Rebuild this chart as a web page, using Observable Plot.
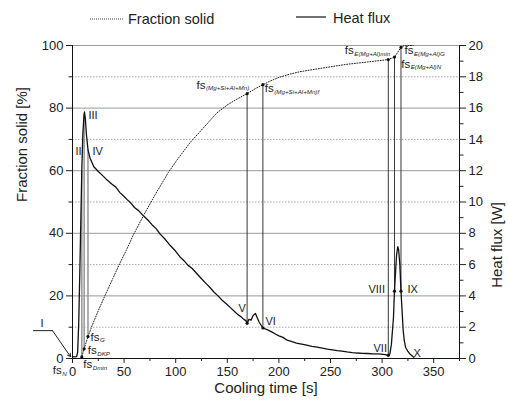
<!DOCTYPE html>
<html>
<head>
<meta charset="utf-8">
<script src="https://cdn.jsdelivr.net/npm/d3@7"></script>
<script src="https://cdn.jsdelivr.net/npm/@observablehq/plot@0.6"></script>
<style>
  html, body { margin: 0; padding: 0; background: #fff; }
  #legend { position: relative; width: 508px; height: 35px; font-family: 'Liberation Sans', Arial, Helvetica, sans-serif; font-size: 14.5px; color: #222; line-height: 1; }
  #legend span { position: absolute; white-space: nowrap; }
  #legend svg { position: absolute; left: 0; top: 0; }
</style>
</head>
<body>
<div id="legend">
  <svg width="508" height="35">
    <line x1="90" x2="123" y1="19" y2="19" stroke="#444" stroke-width="1" stroke-dasharray="1,1"></line>
    <line x1="296" x2="326" y1="17" y2="17" stroke="#222" stroke-width="1.3"></line>
  </svg>
  <span style="left:128px;top:12px">Fraction solid</span>
  <span style="left:333px;top:11px">Heat flux</span>
</div>
<div id="chart"></div>
<script>
// ---- data ----
// Heat flux curve: cooling time [s] and heat flux [W]
const hfTime = [0, 2, 4, 5, 6, 7, 8, 9, 10, 11, 11.3, 11.6, 12.5, 13.5, 15, 17, 20.7, 25, 29, 33.6, 38, 42, 46, 50, 53, 57, 60, 64, 69, 73, 77, 81, 85, 90, 95, 100, 104.7, 108, 112, 116, 120.8, 125, 130, 133, 137, 141, 145, 149, 153, 157, 160, 163, 166, 168, 169.2, 171, 173, 175, 177.3, 179, 181, 184.5, 188.6, 193, 197, 200, 204, 208, 212, 217, 222, 227, 232, 237, 242, 247, 252, 256.5, 261, 266, 271, 276, 281, 286, 291, 295, 299, 303, 306, 307.5, 309, 311, 312, 313, 314, 315.2, 316, 317.2, 318.3, 319.5, 320.4, 321.5, 322.7, 325, 327.5, 330.7];
const hfWatts = [0.12, 0.1, 0.12, 0.4, 2.2, 5.2, 8.6, 12.0, 14.3, 15.4, 15.6, 15.75, 15.3, 14.3, 13.35, 12.8, 12.25, 11.95, 11.7, 11.4, 11.15, 10.95, 10.6, 10.35, 10.15, 9.9, 9.65, 9.45, 9.1, 8.85, 8.55, 8.3, 7.95, 7.6, 7.2, 6.85, 6.45, 6.25, 5.95, 5.75, 5.4, 5.1, 4.75, 4.55, 4.25, 4.0, 3.72, 3.5, 3.25, 3.0, 2.82, 2.68, 2.5, 2.42, 2.25, 2.5, 2.45, 2.75, 2.88, 2.6, 2.3, 1.95, 1.84, 1.7, 1.55, 1.45, 1.35, 1.17, 1.1, 0.98, 0.92, 0.85, 0.78, 0.72, 0.66, 0.6, 0.55, 0.5, 0.47, 0.42, 0.38, 0.35, 0.33, 0.32, 0.3, 0.3, 0.28, 0.25, 0.2, 0.28, 0.9, 2.6, 4.3, 5.5, 6.6, 7.15, 6.95, 6.0, 4.3, 2.9, 1.8, 1.15, 0.72, 0.45, 0.25, 0.08];

// Fraction solid curve: cooling time [s] and fraction solid [%]
const fsTime = [8, 9, 11.3, 15, 19, 25, 32, 39, 46, 52, 59, 69, 80, 93, 101, 114, 125, 140, 150, 160, 169.2, 177, 184.5, 192, 200, 210, 220, 233, 250, 266, 285, 306, 312, 318.3, 321, 325, 330];
const fsPercent = [0, 0.5, 3.1, 7, 10.5, 15.3, 20.5, 25.5, 30.5, 34.5, 39.5, 45.8, 52.3, 59.5, 63.3, 69, 73, 78.5, 81, 83, 84.6, 86.2, 87.5, 88.7, 89.8, 90.8, 91.6, 92.3, 93.2, 94, 94.7, 95.5, 96.3, 99.4, 99.9, 100, 100];

// Characteristic points (roman numerals on the heat flux curve)
const pointNames = ["I", "II", "III", "IV", "V", "VI", "VII", "VIII", "IX", "X"];
const pointTime = [0, 9, 11.3, 15, 169.2, 184.5, 306, 312, 318.3, 330.7];
const pointHeatFlux = [0.12, 12.0, 15.6, 13.35, 2.25, 1.95, 0.2, 4.3, 4.3, 0.08];
const pointFraction = [0, 0.5, 3.1, 7, 84.6, 87.5, 95.5, 96.3, 99.4, 100];

// Annotation anchors (data units: time [s], fraction solid [%])
const numeralTime = [-31, 2.9, 15.5, 19.4, 160.9, 187, 291.7, 286.8, 324.6, 330.4];
const numeralFraction = [11.2, 66, 77.5, 66.3, 16, 11.8, 3.2, 22, 22, 1.6];

const fsSubscripts = ["N", "Dmin", "DKP", "G", "(Mg+Si+Al+Mn)", "(Mg+Si+Al+Mn)f", "E(Mg+Al)min", "E(Mg+Al)G", "E(Mg+Al)N"];
const fsLabelTime = [-19.2, 10.4, 14.8, 17.4, 120.2, 186.3, 263.9, 321.7, 318.5];
const fsLabelFraction = [-3.7, -1.9, 2.5, 6.9, 87.4, 86.4, 98.4, 98.5, 94.1];

// leader for point I: label side -> elbow -> tip
const leaderTime = [-37.8, -19.4, -1.9];
const leaderFraction = [8.9, 8.9, 0.6];

// Axes
const xDomain = [0, 375];
const xTicks = [0, 50, 100, 150, 200, 250, 300, 350];
const xMinorTicks = [25, 75, 125, 175, 225, 275, 325, 375];
const fsTicks = [0, 20, 40, 60, 80, 100];
const fsMinorTicks = [10, 30, 50, 70, 90];
const hfTicks = [0, 2, 4, 6, 8, 10, 12, 14, 16, 18, 20];
const hfMinorTicks = [1, 3, 5, 7, 9, 11, 13, 15, 17, 19];
const hfMax = 20, fsMax = 100;

// ---- build tables ----
const k = fsMax / hfMax; // heat flux axis 0–20 W spans the same height as 0–100 %
const hf = hfTime.map((t, i) => ({t, y: hfWatts[i] * k}));
const fs = fsTime.map((t, i) => ({t, y: fsPercent[i]}));
const pts = pointNames.map((name, i) => ({name, t: pointTime[i], hf: pointHeatFlux[i] * k, fs: pointFraction[i]}));
const numerals = pointNames.map((name, i) => ({name, t: numeralTime[i], y: numeralFraction[i]}));
const fsLabels = fsSubscripts.map((sub, i) => ({sub, t: fsLabelTime[i], y: fsLabelFraction[i]}));
const leader = leaderTime.map((t, i) => ({t, y: leaderFraction[i]}));

const font = "'Liberation Sans', Arial, Helvetica, sans-serif";

const chart = Plot.plot({
  width: 508,
  height: 370,
  marginTop: 10,
  marginLeft: 72,
  marginRight: 49,
  marginBottom: 47,
  style: {fontFamily: font, fontSize: "13px", color: "#222", background: "#fff"},
  x: {domain: xDomain},
  y: {domain: [0, fsMax]},
  marks: [
    // grid
    Plot.ruleY(fsMinorTicks, {stroke: "#a8a8a8", strokeWidth: 1, strokeDasharray: "1.5,1.5"}),
    Plot.ruleY(fsTicks.filter(d => d > 0), {stroke: "#9a9a9a", strokeWidth: 1}),
    // frame lines
    Plot.ruleX(xDomain, {stroke: "#111", strokeWidth: 1}),
    Plot.ruleY([0], {stroke: "#111", strokeWidth: 1}),
    // axes
    Plot.axisY({ticks: fsTicks, tickSize: 6, tickPadding: 3, fontSize: 13, label: null}),
    Plot.axisY({ticks: fsMinorTicks, tickSize: 3.5, tickFormat: () => "", label: null}),
    Plot.axisY({anchor: "right", ticks: hfTicks.map(w => w * k), tickFormat: d => String(d / k), tickSize: 6, tickPadding: 3, fontSize: 13, label: null}),
    Plot.axisY({anchor: "right", ticks: hfMinorTicks.map(w => w * k), tickFormat: () => "", tickSize: 3.5, label: null}),
    Plot.axisX({ticks: xTicks, tickSize: 5, tickPadding: 3, fontSize: 13, label: null}),
    Plot.axisX({ticks: xMinorTicks, tickSize: 3, tickFormat: () => "", label: null}),
    // connectors between heat flux points and fraction solid points
    Plot.link(pts.slice(1, 4), {x1: "t", x2: "t", y1: "fs", y2: "hf", stroke: "#9c9c9c", strokeWidth: 1.6}),
    Plot.link(pts.slice(4, 9), {x1: "t", x2: "t", y1: "fs", y2: "hf", stroke: "#222", strokeWidth: 0.9}),
    // curves
    Plot.line(fs, {x: "t", y: "y", stroke: "#222", strokeWidth: 1, strokeDasharray: "1,1.6"}),
    Plot.line(hf, {x: "t", y: "y", stroke: "#111", strokeWidth: 1.3}),
    // points
    Plot.dot(pts.slice(1, 9), {x: "t", y: "fs", r: 1.6, fill: "#111"}),
    Plot.dot(pts.slice(4, 9), {x: "t", y: "hf", r: 1.6, fill: "#111"}),
    // leader for I
    Plot.line(leader.slice(0, 2), {x: "t", y: "y", stroke: "#222", strokeWidth: 1}),
    Plot.arrow([{x1: leader[1].t, y1: leader[1].y, x2: leader[2].t, y2: leader[2].y}], {x1: "x1", y1: "y1", x2: "x2", y2: "y2", stroke: "#222", strokeWidth: 1, headLength: 5}),
    // roman numerals
    Plot.text(numerals, {x: "t", y: "y", text: "name", textAnchor: "start", fontSize: 11, fill: "#222"}),
    // fs labels
    Plot.text(fsLabels, {x: "t", y: "y", text: () => "fs", textAnchor: "start", fontSize: 11.5, fill: "#222"}),
    Plot.text(fsLabels, {x: "t", y: "y", text: "sub", textAnchor: "start", fontSize: 6.2, fontStyle: "italic", dx: 9.5, dy: 3.5, fill: "#222"}),
    // axis titles
    Plot.text(["Fraction solid [%]"], {frameAnchor: "left", rotate: -90, dx: -50, fontSize: 15, fill: "#222"}),
    Plot.text(["Heat flux [W]"], {frameAnchor: "right", rotate: -90, dx: 38, fontSize: 15, fill: "#222"}),
    Plot.text(["Cooling time [s]"], {frameAnchor: "bottom", dy: 34, fontSize: 15, fill: "#222"})
  ]
});
document.getElementById("chart").appendChild(chart);
</script>
</body>
</html>
